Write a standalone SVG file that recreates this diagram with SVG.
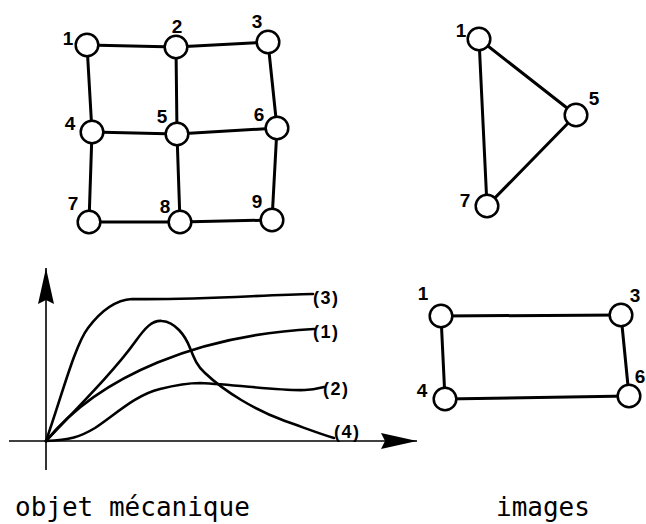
<svg xmlns="http://www.w3.org/2000/svg" width="646" height="524" viewBox="0 0 646 524">
<style>
.edge{stroke:#000;stroke-width:3;fill:none;stroke-linecap:round}
.node circle{fill:#fff;stroke:#000;stroke-width:2.5}
.lbl{font-family:"Liberation Sans",Arial,sans-serif;font-weight:bold;font-size:19px;fill:#000;text-anchor:middle}
.axis{stroke:#000;stroke-width:1.6;fill:none}
.curve{stroke:#000;stroke-width:2.6;fill:none;stroke-linecap:round;stroke-linejoin:round}
.clbl{font-family:"Liberation Sans",Arial,sans-serif;font-weight:bold;font-size:18px;letter-spacing:1.5px;fill:#000}
.cap{font-family:"DejaVu Sans Mono","Liberation Mono",monospace;font-size:26px;fill:#000}
</style>
<defs>
<marker id="arr" viewBox="0 0 36 16" refX="36" refY="8" markerWidth="36" markerHeight="16" markerUnits="userSpaceOnUse" orient="auto">
<path d="M0,0 L36,8 L0,16 L4,8 Z" fill="#000"/>
</marker>
</defs>
<rect width="646" height="524" fill="#fff"/>
<g id="connectors">
<line class="edge" x1="87" y1="45" x2="176" y2="47"/>
<line class="edge" x1="176" y1="47" x2="268" y2="42"/>
<line class="edge" x1="87" y1="45" x2="92" y2="132"/>
<line class="edge" x1="176" y1="47" x2="177" y2="134"/>
<line class="edge" x1="268" y1="42" x2="277" y2="128"/>
<line class="edge" x1="92" y1="132" x2="177" y2="134"/>
<line class="edge" x1="177" y1="134" x2="277" y2="128"/>
<line class="edge" x1="92" y1="132" x2="89" y2="222"/>
<line class="edge" x1="177" y1="134" x2="180" y2="222"/>
<line class="edge" x1="277" y1="128" x2="272" y2="220"/>
<line class="edge" x1="89" y1="222" x2="180" y2="222"/>
<line class="edge" x1="180" y1="222" x2="272" y2="220"/>
<line class="edge" x1="479" y1="39" x2="576" y2="115"/>
<line class="edge" x1="479" y1="39" x2="487" y2="206"/>
<line class="edge" x1="576" y1="115" x2="487" y2="206"/>
<line class="edge" x1="441" y1="316" x2="621" y2="315"/>
<line class="edge" x1="441" y1="316" x2="445" y2="399"/>
<line class="edge" x1="621" y1="315" x2="629" y2="396"/>
<line class="edge" x1="445" y1="399" x2="629" y2="396"/>
</g>
<g id="grid-n1" class="node"><circle cx="87" cy="45" r="11.3"/><text class="lbl" x="68" y="45">1</text></g>
<g id="grid-n2" class="node"><circle cx="176" cy="47" r="11.3"/><text class="lbl" x="177" y="33">2</text></g>
<g id="grid-n3" class="node"><circle cx="268" cy="42" r="11.3"/><text class="lbl" x="257" y="28">3</text></g>
<g id="grid-n4" class="node"><circle cx="92" cy="132" r="11.3"/><text class="lbl" x="70" y="130">4</text></g>
<g id="grid-n5" class="node"><circle cx="177" cy="134" r="11.3"/><text class="lbl" x="162" y="123">5</text></g>
<g id="grid-n6" class="node"><circle cx="277" cy="128" r="11.3"/><text class="lbl" x="259" y="121">6</text></g>
<g id="grid-n7" class="node"><circle cx="89" cy="222" r="11.3"/><text class="lbl" x="73" y="210">7</text></g>
<g id="grid-n8" class="node"><circle cx="180" cy="222" r="11.3"/><text class="lbl" x="165" y="213">8</text></g>
<g id="grid-n9" class="node"><circle cx="272" cy="220" r="11.3"/><text class="lbl" x="257" y="208">9</text></g>
<g id="tri-n1" class="node"><circle cx="479" cy="39" r="11.3"/><text class="lbl" x="461" y="37">1</text></g>
<g id="tri-n5" class="node"><circle cx="576" cy="115" r="11.3"/><text class="lbl" x="594" y="105">5</text></g>
<g id="tri-n7" class="node"><circle cx="487" cy="206" r="11.3"/><text class="lbl" x="465" y="207">7</text></g>
<g id="rect-n1" class="node"><circle cx="441" cy="316" r="11.3"/><text class="lbl" x="423" y="300">1</text></g>
<g id="rect-n3" class="node"><circle cx="621" cy="315" r="11.3"/><text class="lbl" x="635" y="302">3</text></g>
<g id="rect-n4" class="node"><circle cx="445" cy="399" r="11.3"/><text class="lbl" x="422" y="397">4</text></g>
<g id="rect-n6" class="node"><circle cx="629" cy="396" r="11.3"/><text class="lbl" x="640" y="383">6</text></g>
<g id="chart">
<line class="axis" x1="46" y1="470" x2="46" y2="268" marker-end="url(#arr)"/>
<line class="axis" x1="9" y1="441" x2="417" y2="441" marker-end="url(#arr)"/>
<path class="curve" d="M46,441 C62,395 75,345 88,328 C100,312 115,300 132,299 C200,300 260,295 313,294"/>
<path class="curve" d="M46,441 C100,375 200,335 314,329"/>
<path class="curve" d="M46,441 C70,440 80,437 95,428 C115,415 135,395 160,389 C180,384 193,383 200,383 C240,385 280,391 305,390 C315,390 320,388 324,387"/>
<path class="curve" d="M46,441 C80,405 115,370 135,342 C145,328 152,320 162,321 C175,322 185,335 190,348 C194,358 197,366 205,373 C225,392 255,410 285,421 C305,428 320,434 334,438"/>
<text class="clbl" x="313" y="304">(3)</text>
<text class="clbl" x="313" y="338">(1)</text>
<text class="clbl" x="323" y="395">(2)</text>
<text class="clbl" x="334" y="438">(4)</text>
</g>
<text class="cap" x="15" y="516">objet mécanique</text>
<text class="cap" x="496" y="516">images</text>
</svg>
